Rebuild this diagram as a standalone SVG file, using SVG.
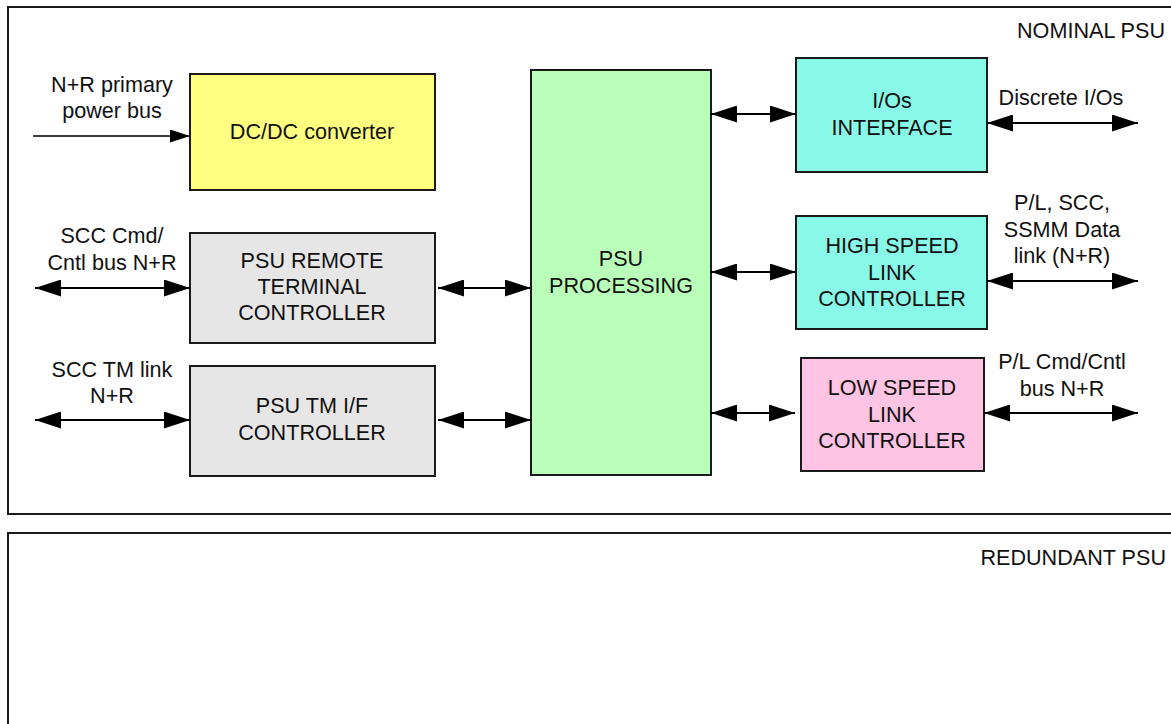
<svg xmlns="http://www.w3.org/2000/svg" width="1171" height="724" viewBox="0 0 1171 724">
  <defs>
    <style>
      text { font-family: "Liberation Sans", Arial, sans-serif; font-size: 21.6px; fill: #111; }
      .mid { text-anchor: middle; }
      .end { text-anchor: end; }
      .frame { fill: none; stroke: #1a1a1a; stroke-width: 2; }
      .box { stroke: #1a1a1a; stroke-width: 2; }
      .link { stroke: #000; stroke-width: 2; fill: none; marker-start: url(#head); marker-end: url(#head); }
      .feed { stroke: #000; stroke-width: 1.5; fill: none; marker-end: url(#headSmall); }
    </style>
    <marker id="head" markerUnits="userSpaceOnUse" markerWidth="26" markerHeight="17" refX="26" refY="8.5" orient="auto-start-reverse">
      <path d="M0,0 L26,8.5 L0,17 z" fill="#000"/>
    </marker>
    <marker id="headSmall" markerUnits="userSpaceOnUse" markerWidth="20" markerHeight="13" refX="20" refY="6.5" orient="auto">
      <path d="M0,0 L20,6.5 L0,13 z" fill="#000"/>
    </marker>
  </defs>

  <rect width="1171" height="724" fill="#fff"/>

  <!-- unit frames -->
  <g id="nominal-psu">
    <rect class="frame" x="8" y="7" width="1175" height="507"/>
    <text class="end" x="1165" y="38">NOMINAL PSU</text>
  </g>
  <g id="redundant-psu">
    <rect class="frame" x="8" y="533" width="1175" height="200"/>
    <text class="end" x="1166" y="565">REDUNDANT PSU</text>
  </g>

  <!-- function blocks -->
  <g id="dcdc">
    <rect class="box" x="190" y="74" width="245" height="116" fill="#ffff80"/>
    <text class="mid" x="312" y="139">DC/DC converter</text>
  </g>
  <g id="remote-terminal">
    <rect class="box" x="190" y="233" width="245" height="110" fill="#e6e6e6"/>
    <text class="mid" x="312" y="268">PSU REMOTE</text>
    <text class="mid" x="312" y="294">TERMINAL</text>
    <text class="mid" x="312" y="320">CONTROLLER</text>
  </g>
  <g id="tm-if">
    <rect class="box" x="190" y="366" width="245" height="110" fill="#e6e6e6"/>
    <text class="mid" x="312" y="413">PSU TM I/F</text>
    <text class="mid" x="312" y="440">CONTROLLER</text>
  </g>
  <g id="processing">
    <rect class="box" x="531" y="70" width="180" height="405" fill="#b9ffb9"/>
    <text class="mid" x="621" y="266">PSU</text>
    <text class="mid" x="621" y="293">PROCESSING</text>
  </g>
  <g id="ios-interface">
    <rect class="box" x="796" y="58" width="191" height="114" fill="#88f8e8"/>
    <text class="mid" x="892" y="108">I/Os</text>
    <text class="mid" x="892" y="135">INTERFACE</text>
  </g>
  <g id="high-speed">
    <rect class="box" x="796" y="216" width="191" height="113" fill="#88f8e8"/>
    <text class="mid" x="892" y="253">HIGH SPEED</text>
    <text class="mid" x="892" y="280">LINK</text>
    <text class="mid" x="892" y="306">CONTROLLER</text>
  </g>
  <g id="low-speed">
    <rect class="box" x="801" y="358" width="183" height="113" fill="#ffc4e4"/>
    <text class="mid" x="892" y="395">LOW SPEED</text>
    <text class="mid" x="892" y="422">LINK</text>
    <text class="mid" x="892" y="448">CONTROLLER</text>
  </g>

  <!-- external interface labels -->
  <g id="labels">
    <text class="mid" x="112" y="92">N+R primary</text>
    <text class="mid" x="112" y="118">power bus</text>
    <text class="mid" x="112" y="243">SCC Cmd/</text>
    <text class="mid" x="112" y="270">Cntl bus N+R</text>
    <text class="mid" x="112" y="377">SCC TM link</text>
    <text class="mid" x="112" y="403">N+R</text>
    <text class="mid" x="1061" y="105">Discrete I/Os</text>
    <text class="mid" x="1062" y="210">P/L, SCC,</text>
    <text class="mid" x="1062" y="237">SSMM Data</text>
    <text class="mid" x="1062" y="263">link (N+R)</text>
    <text class="mid" x="1062" y="369">P/L Cmd/Cntl</text>
    <text class="mid" x="1062" y="396">bus N+R</text>
  </g>

  <!-- connectors -->
  <g id="connectors">
    <line class="feed" x1="33" y1="136" x2="190" y2="136"/>
    <line class="link" x1="35" y1="288" x2="190" y2="288"/>
    <line class="link" x1="35" y1="420" x2="190" y2="420"/>
    <line class="link" x1="438" y1="288" x2="531" y2="288"/>
    <line class="link" x1="438" y1="420" x2="531" y2="420"/>
    <line class="link" x1="711" y1="114" x2="796" y2="114"/>
    <line class="link" x1="711" y1="272" x2="796" y2="272"/>
    <line class="link" x1="711" y1="413" x2="795" y2="413"/>
    <line class="link" x1="987" y1="123" x2="1138" y2="123"/>
    <line class="link" x1="987" y1="281" x2="1138" y2="281"/>
    <line class="link" x1="984" y1="413" x2="1138" y2="413"/>
  </g>
</svg>
